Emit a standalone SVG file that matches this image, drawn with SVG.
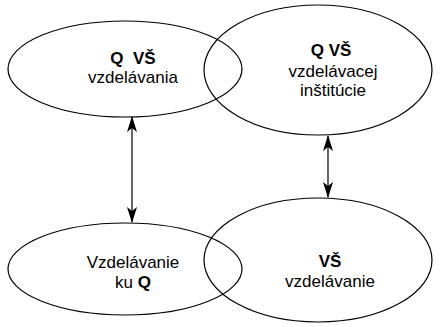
<svg xmlns="http://www.w3.org/2000/svg" width="440" height="327" viewBox="0 0 440 327">
<style>
.e{fill:none;stroke:#000;stroke-width:1.2}
.t{font-family:"Liberation Sans",Arial,sans-serif;font-size:17px;fill:#000;text-anchor:middle}
.b{font-weight:bold}
.c{stroke:#000;stroke-width:1.2;fill:none;marker-start:url(#ah);marker-end:url(#ah)}
</style>
<defs>
<marker id="ah" viewBox="0 0 16 10" refX="15" refY="5" markerWidth="16" markerHeight="10" orient="auto-start-reverse" markerUnits="userSpaceOnUse">
<path d="M0,0 L16,5 L0,10 L4,5 Z" fill="#000"/>
</marker>
</defs>
<rect width="440" height="327" fill="#fff"/>
<g id="n1">
<ellipse class="e" cx="125" cy="69" rx="117" ry="48"/>
<text class="t b" x="133" y="64" xml:space="preserve">Q  VŠ</text>
<text class="t" x="133" y="83">vzdelávania</text>
</g>
<g id="n2">
<ellipse class="e" cx="318" cy="70" rx="114" ry="65"/>
<text class="t b" x="331" y="56">Q VŠ</text>
<text class="t" x="333" y="77">vzdelávacej</text>
<text class="t" x="333" y="96">inštitúcie</text>
</g>
<g id="n3">
<ellipse class="e" cx="125" cy="269" rx="117" ry="46"/>
<text class="t" x="133" y="268">Vzdelávanie</text>
<text class="t" x="133" y="288">ku <tspan class="b">Q</tspan></text>
</g>
<g id="n4">
<ellipse class="e" cx="318" cy="260" rx="114" ry="62"/>
<text class="t b" x="330" y="267">VŠ</text>
<text class="t" x="330" y="287">vzdelávanie</text>
</g>
<g id="connectors">
<line class="c" x1="132" y1="117" x2="132" y2="222"/>
<line class="c" x1="328" y1="136" x2="328" y2="197"/>
</g>
</svg>
